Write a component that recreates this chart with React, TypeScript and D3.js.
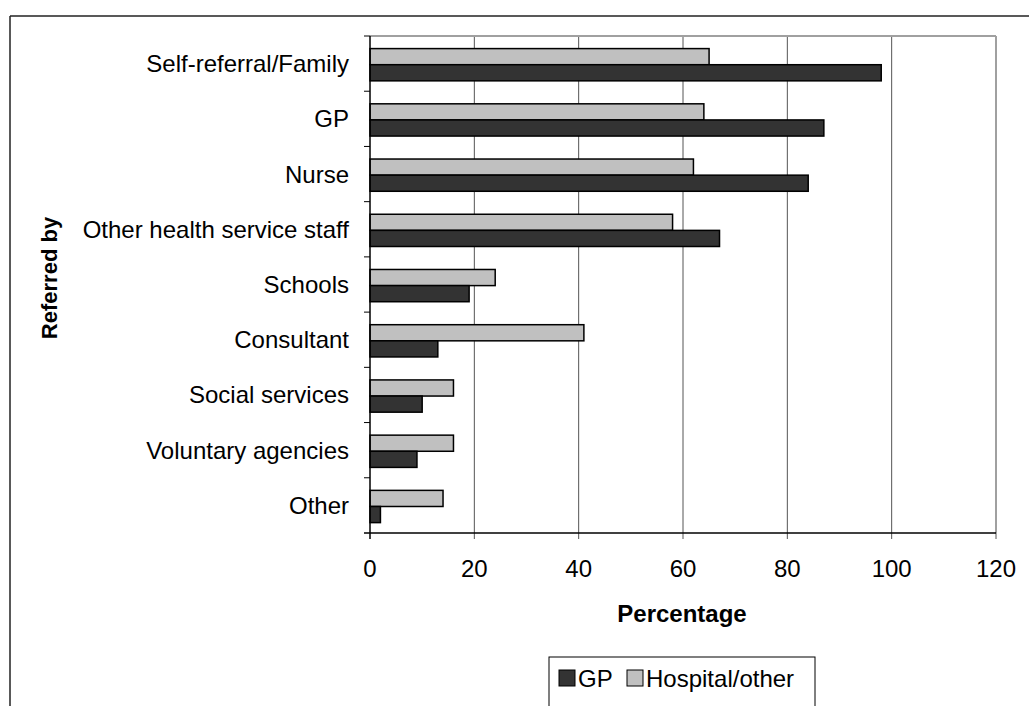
import React from "react";
import * as d3 from "d3";

const categories = [
  "Self-referral/Family",
  "GP",
  "Nurse",
  "Other health service staff",
  "Schools",
  "Consultant",
  "Social services",
  "Voluntary agencies",
  "Other",
];
const gpValues = [98, 87, 84, 67, 19, 13, 10, 9, 2];
const hospitalValues = [65, 64, 62, 58, 24, 41, 16, 16, 14];
const xTicks = [0, 20, 40, 60, 80, 100, 120];
const seriesNames = ["GP", "Hospital/other"];

const W = 1029;
const H = 706;
const left = 370;
const right = 996;
const top = 36;
const bottom = 533;
const font = "'Liberation Sans', Arial, sans-serif";
const DARK = "#333333";
const LIGHT = "#c0c0c0";

export default function App() {
  const x = d3.scaleLinear().domain([0, 120]).range([left, right]);
  const y = d3.scaleBand<string>().domain(categories).range([top, bottom]);
  const bw = y.bandwidth();
  const barH = bw * 0.292;
  const off = bw * 0.228;

  const legendItems = [
    { name: seriesNames[0], color: DARK, sx: 559 },
    { name: seriesNames[1], color: LIGHT, sx: 627 },
  ];

  return (
    <svg
      width={W}
      height={H}
      style={{ position: "absolute", left: 0, top: 0, background: "#fff" }}
    >
      {/* outer frame */}
      <line x1={10} y1={16} x2={W} y2={16} stroke="#222" strokeWidth={1.5} />
      <line x1={10} y1={16} x2={10} y2={H} stroke="#222" strokeWidth={1.5} />

      {/* gridlines + x ticks */}
      {xTicks.map((t) =>
        t > 0 && t < 120 ? (
          <line key={"g" + t} x1={x(t)} x2={x(t)} y1={top} y2={bottom + 6} stroke="#555" strokeWidth={1} />
        ) : null
      )}
      <line x1={x(120)} x2={x(120)} y1={bottom} y2={bottom + 6} stroke="#555" strokeWidth={1} />
      {/* plot area border top/right */}
      <line x1={left} x2={right} y1={top} y2={top} stroke="#a0a0a0" strokeWidth={2} />
      <line x1={right} x2={right} y1={top} y2={bottom} stroke="#a0a0a0" strokeWidth={2} />

      {/* bars */}
      {categories.map((c, i) => {
        const y0 = (y(c) as number) + off;
        return (
          <g key={c}>
            <rect
              x={x(0)}
              y={y0}
              width={x(hospitalValues[i]) - x(0)}
              height={barH}
              fill={LIGHT}
              stroke="#000"
              strokeWidth={1.5}
            />
            <rect
              x={x(0)}
              y={y0 + barH}
              width={x(gpValues[i]) - x(0)}
              height={barH}
              fill={DARK}
              stroke="#000"
              strokeWidth={1.5}
            />
          </g>
        );
      })}

      {/* axes */}
      <line x1={left} x2={left} y1={top} y2={bottom + 6} stroke="#000" strokeWidth={1.5} />
      <line x1={left - 6} x2={right} y1={bottom} y2={bottom} stroke="#000" strokeWidth={1.5} />
      {categories.map((c) => (
        <line key={"t" + c} x1={left - 6} x2={left} y1={y(c) as number} y2={y(c) as number} stroke="#000" strokeWidth={1} />
      ))}

      {/* category labels */}
      {categories.map((c) => (
        <text
          key={"l" + c}
          x={left - 21}
          y={(y(c) as number) + bw / 2}
          textAnchor="end"
          dominantBaseline="central"
          fontFamily={font}
          fontSize={24}
          fill="#000"
        >
          {c}
        </text>
      ))}

      {/* x tick labels */}
      {xTicks.map((t) => (
        <text
          key={"x" + t}
          x={x(t)}
          y={568}
          textAnchor="middle"
          dominantBaseline="central"
          fontFamily={font}
          fontSize={24}
          fill="#000"
        >
          {t}
        </text>
      ))}

      {/* axis titles */}
      <text
        x={682}
        y={613}
        textAnchor="middle"
        dominantBaseline="central"
        fontFamily={font}
        fontSize={24}
        fontWeight="bold"
      >
        Percentage
      </text>
      <text
        transform={`translate(57,278) rotate(-90)`}
        textAnchor="middle"
        fontFamily={font}
        fontSize={22}
        fontWeight="bold"
      >
        Referred by
      </text>

      {/* legend */}
      <rect x={549} y={657} width={266} height={70} fill="#fff" stroke="#000" strokeWidth={1} />
      {legendItems.map((it) => (
        <g key={it.name}>
          <rect x={it.sx} y={670} width={16} height={16} fill={it.color} stroke="#000" strokeWidth={1} />
          <text x={it.sx + 19} y={678} dominantBaseline="central" fontFamily={font} fontSize={24}>
            {it.name}
          </text>
        </g>
      ))}
    </svg>
  );
}
